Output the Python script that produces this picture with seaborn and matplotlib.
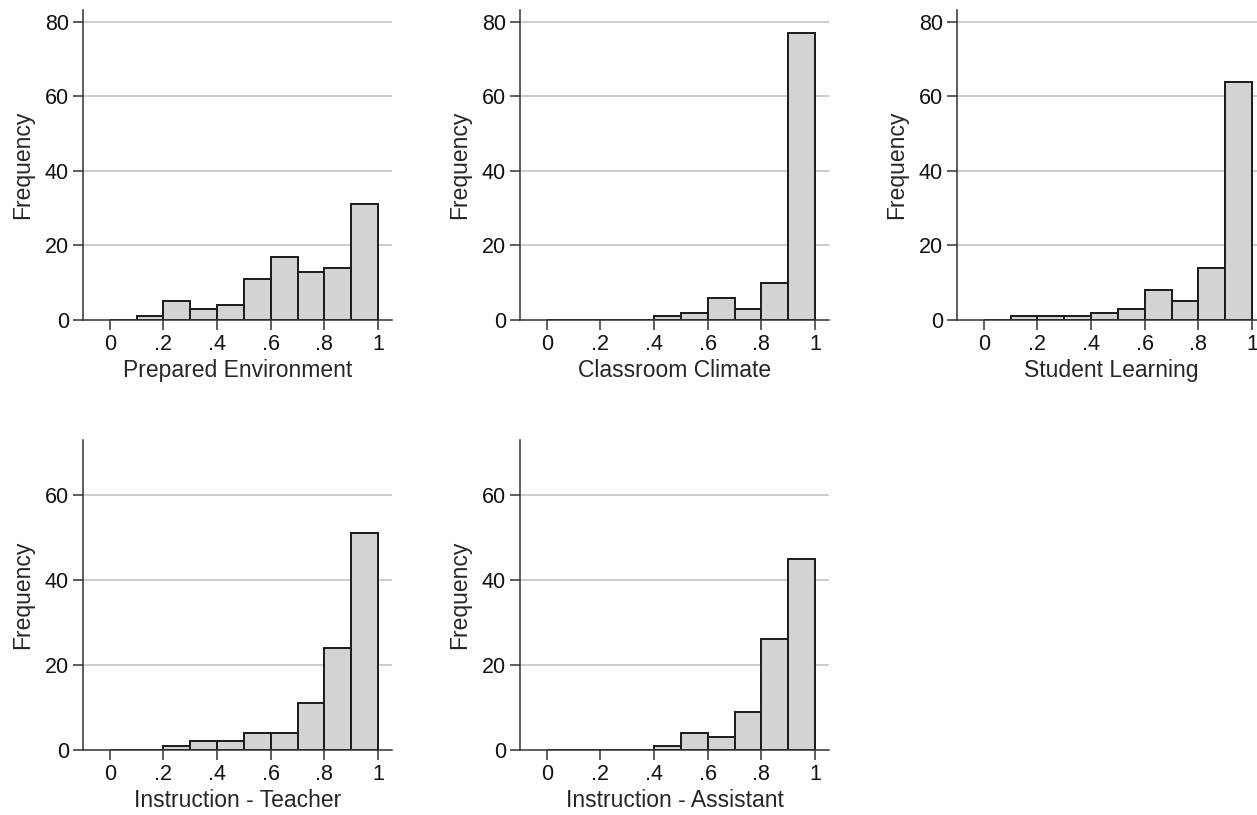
import numpy as np
import pandas as pd
import matplotlib
matplotlib.use("Agg")
import matplotlib.pyplot as plt
import seaborn as sns

sns.set_style("white")
plt.rcParams["font.family"] = ["Liberation Sans", "DejaVu Sans"]

# bin edges (width 0.1) and frequency per bin
bin_edges = [0.0, 0.1, 0.2, 0.3, 0.4, 0.5, 0.6, 0.7, 0.8, 0.9, 1.0]
prepared_env = [0, 1, 5, 3, 4, 11, 17, 13, 14, 31]
classroom_climate = [0, 0, 0, 0, 1, 2, 6, 3, 10, 77]
student_learning = [0, 1, 1, 1, 2, 3, 8, 5, 14, 64]
instr_teacher = [0, 0, 1, 2, 2, 4, 4, 11, 24, 51]
instr_assistant = [0, 0, 0, 0, 1, 4, 3, 9, 26, 45]

panel_names = ["Prepared Environment", "Classroom Climate", "Student Learning",
               "Instruction - Teacher", "Instruction - Assistant"]
panel_counts = [prepared_env, classroom_climate, student_learning,
                instr_teacher, instr_assistant]

x_ticks = [0, 0.2, 0.4, 0.6, 0.8, 1.0]
x_ticklabels = ["0", ".2", ".4", ".6", ".8", "1"]

W, H = 1257, 815
fig = plt.figure(figsize=(W / 100, H / 100), dpi=100)

# pixel boxes: (left, top, width, height)
boxes = [(83, 10, 309, 310), (520, 10, 309, 310), (957, 10, 309, 310),
         (83, 440, 309, 310), (520, 440, 309, 310)]
ylims = [83.2, 83.2, 83.2, 72.9, 72.9]
yticks_list = [[0, 20, 40, 60, 80]] * 3 + [[0, 20, 40, 60]] * 2

edges = np.array(bin_edges)
mids = (edges[:-1] + edges[1:]) / 2

for name, counts, (l, t, w, h), ytop, yt in zip(panel_names, panel_counts, boxes, ylims, yticks_list):
    ax = fig.add_axes([l / W, 1 - (t + h) / H, w / W, h / H])
    df = pd.DataFrame({"score": mids, "n": counts})
    for y in yt[1:]:
        ax.axhline(y, color="#c4c4c4", lw=1.2, zorder=0)
    sns.histplot(data=df, x="score", weights="n", bins=bin_edges, ax=ax,
                 color="#d3d3d3", edgecolor="#1a1a1a", linewidth=1.4, alpha=1)
    ax.set_xlim(-0.1, 1.052)
    ax.set_ylim(0, ytop)
    ax.set_xticks(x_ticks)
    ax.set_xticklabels(x_ticklabels)
    ax.set_yticks(yt)
    ax.set_xlabel(name, fontsize=16.5, labelpad=3)
    ax.set_ylabel("Frequency", fontsize=16.5, labelpad=8)
    ax.tick_params(axis="both", direction="out", length=7, width=1.1,
                   labelsize=15.5, color="#333333", labelcolor="#111111",
                   bottom=True, left=True, pad=3)
    for side in ["top", "right"]:
        ax.spines[side].set_visible(False)
    for side in ["left", "bottom"]:
        ax.spines[side].set_color("#333333")
        ax.spines[side].set_linewidth(1.1)

fig.savefig("out.png", dpi=100, facecolor="white")
